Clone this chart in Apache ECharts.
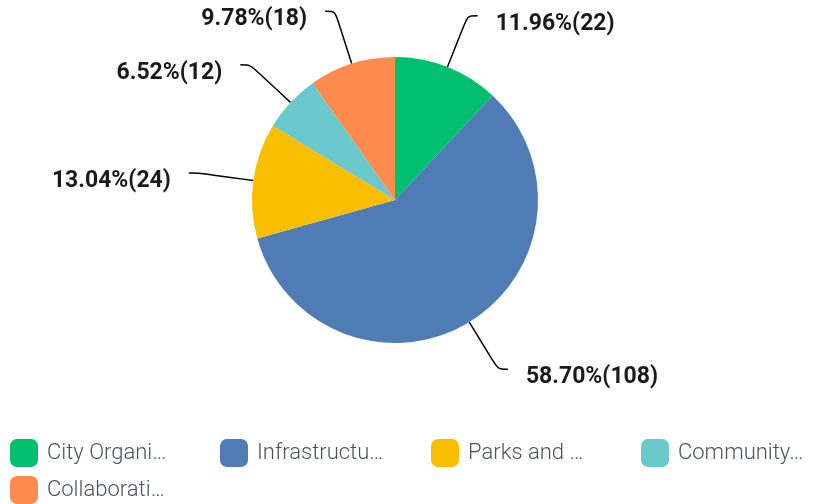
<!DOCTYPE html>
<html>
<head>
<meta charset="utf-8">
<script src="https://cdn.jsdelivr.net/npm/echarts@6/dist/echarts.min.js"></script>
<style>
  html, body { margin: 0; padding: 0; background: #fff; }
  #chart { width: 815px; height: 504px; }
</style>
</head>
<body>
<div id="chart"></div>
<script>
var categories = ['City Organizations', 'Infrastructure Improvements', 'Parks and Recreation', 'Community Events', 'Collaboration with Partners'];
var counts = [22, 108, 24, 12, 18];
var colors = ['#00bf6f', '#507cb6', '#f9be00', '#6bc8cd', '#ff8b4f'];

var total = counts.reduce(function (a, b) { return a + b; }, 0);
var pieData = categories.map(function (name, i) {
	return { name: name, value: counts[i], itemStyle: { color: colors[i] } };
});

// one legend per item so the columns sit on a fixed grid
var legendSlots = [[5, 434], [215, 434], [426, 434], [636, 434], [5, 471]];
var legends = categories.map(function (name, i) {
	return {
		left: legendSlots[i][0],
		top: legendSlots[i][1],
		itemWidth: 28,
		itemHeight: 28,
		itemGap: 0,
		icon: 'roundRect',
		textStyle: {
			fontFamily: 'Roboto',
			fontWeight: 300,
			fontSize: 22,
			color: '#4b5261',
			width: 128.5,
			overflow: 'truncate',
			ellipsis: '…',
			padding: [0, 0, 0, 4]
		},
		data: [name]
	};
});

var chart = echarts.init(document.getElementById('chart'));
chart.setOption({
	animation: false,
	legend: legends,
	series: [{
		type: 'pie',
		center: [395, 200],
		radius: 143,
		startAngle: 90,
		clockwise: true,
		data: pieData,
		itemStyle: { borderWidth: 0 },
		label: {
			show: true,
			distanceToLabelLine: 18,
			formatter: function (p) {
				return '{v|' + (p.value / total * 100).toFixed(2) + '%(' + p.value + ')}';
			},
			rich: {
				v: {
					fontFamily: 'Roboto',
					fontWeight: 'bold',
					fontSize: 23,
					color: '#1a1a1a',
					padding: [16, 0, 0, 0]
				}
			}
		},
		labelLine: {
			show: true,
			length: 55,
			length2: 10,
			smooth: true,
			lineStyle: { color: '#000', width: 1.5 }
		},
		emphasis: { disabled: true }
	}]
});
</script>
</body>
</html>
